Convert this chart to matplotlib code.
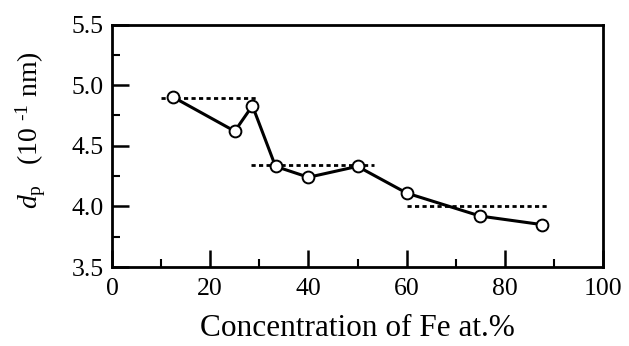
import matplotlib
matplotlib.use("Agg")
import matplotlib.pyplot as plt
from matplotlib.ticker import MultipleLocator, FormatStrFormatter

# ── data ──────────────────────────────────────────────────────────────────────
fe_conc = [12.5, 25, 28.6, 33.3, 40, 50, 60, 75, 87.5]
d_p = [4.90, 4.62, 4.83, 4.33, 4.24, 4.33, 4.11, 3.92, 3.85]

# dotted plateau levels: (x start, x end) and level
plateau_x = [[10, 29.5], [28.4, 53.4], [60, 88.5]]
plateau_y = [4.89, 4.34, 4.00]

plt.rcParams["font.family"] = ["Liberation Serif", "DejaVu Serif"]
plt.rcParams["mathtext.fontset"] = "custom"
plt.rcParams["mathtext.rm"] = "Liberation Serif"
plt.rcParams["mathtext.it"] = "Liberation Serif:italic"

fig = plt.figure(figsize=(6.29, 3.46), dpi=100)
ax = fig.add_axes([112 / 629, 1 - 267 / 346, (603 - 112) / 629, (267 - 24.5) / 346])

for xs, lvl in zip(plateau_x, plateau_y):
    ax.plot(xs, [lvl, lvl], color="black", lw=2, ls=(0, (1.5, 1.2)), zorder=2)

ax.plot(fe_conc, d_p, color="black", lw=2.2, marker="o", ms=8.5,
        mfc="white", mec="black", mew=1.4, zorder=3)

ax.set_xlim(0, 100)
ax.set_ylim(3.5, 5.5)
ax.xaxis.set_major_locator(MultipleLocator(20))
ax.xaxis.set_minor_locator(MultipleLocator(10))
ax.yaxis.set_major_locator(MultipleLocator(0.5))
ax.yaxis.set_minor_locator(MultipleLocator(0.25))
ax.yaxis.set_major_formatter(FormatStrFormatter("%.1f"))
ax.tick_params(which="major", direction="in", length=12, width=1.8,
               labelsize=18.5, pad=8)
ax.tick_params(which="minor", direction="in", length=6, width=1.5)
ax.tick_params(axis="y", which="major", pad=6)
ax.tick_params(top=False, right=False, which="both")
for sp in ax.spines.values():
    sp.set_linewidth(2)

ax.set_xlabel("Concentration of Fe at.%", fontsize=22.5, labelpad=10)
ax.set_ylabel(r"$d_{\mathrm{p}}\ \ \ $(10 $^{\text{-1}}$ nm)", fontsize=20)
ax.yaxis.set_label_coords(-0.13, 0.565)

fig.savefig("out.png", dpi=100)
